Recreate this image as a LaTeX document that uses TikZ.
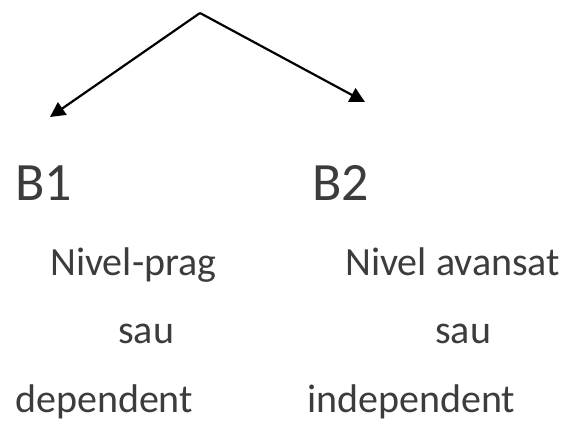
\documentclass[tikz,border=0pt]{standalone}
\usepackage{fontspec}
\setmainfont{Carlito}
\usetikzlibrary{arrows.meta}
\definecolor{textgrey}{HTML}{3C3C3C}
\tikzset{
  level/.style={inner sep=0pt, anchor=base west, text=textgrey, font=\fontsize{54}{60}\selectfont},
  desc/.style={inner sep=0pt, anchor=base west, text=textgrey, font=\fontsize{40}{46}\selectfont},
}
\begin{document}
\begin{tikzpicture}[x=1pt, y=-1pt]
\useasboundingbox (0,0) rectangle (569,424);
\coordinate (top) at (200,13);
\coordinate (t1) at (50,117);
\coordinate (t2) at (365,102);

\node[level] (b1) at (15,200) {B1};
\node[level] (b2) at (312,200) {B2};

\node[desc] (n1) at (50,275) {Nivel-prag};
\node[desc] (s1) at (118,343) {sau};
\node[desc] (d1) at (15,412) {dependent};

\node[desc] (n2) at (345,275) {Nivel avansat};
\node[desc] (s2) at (435,343) {sau};
\node[desc] (d2) at (307,412) {independent};

\draw[-{Triangle[length=15pt, width=15pt]}, line width=2.2pt] (top) to (t1);
\draw[-{Triangle[length=15pt, width=15pt]}, line width=2.2pt] (top) to (t2);
\end{tikzpicture}
\end{document}
